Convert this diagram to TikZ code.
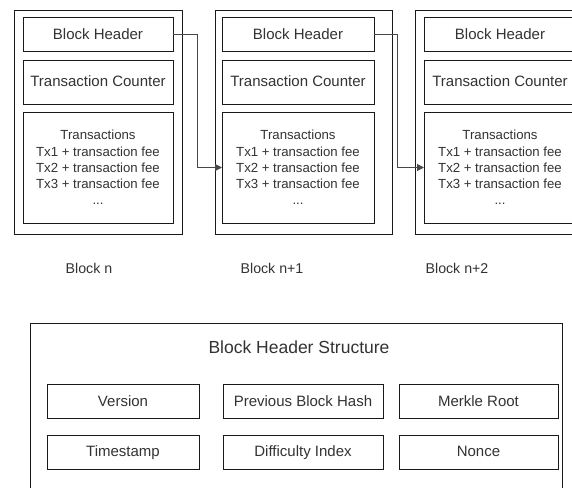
\documentclass[tikz,border=0pt]{standalone}
\usepackage{fontspec}
\setmainfont{Liberation Sans}
\usetikzlibrary{arrows.meta}
\definecolor{txt}{HTML}{333333}
\definecolor{ln}{HTML}{1A1A1A}
\begin{document}
\begin{tikzpicture}[x=1pt,y=-1pt,
  box/.style={draw=ln,line width=1pt,rectangle,inner sep=0pt,outer sep=0pt,text=txt},
  bigtxt/.style={font=\fontsize{15}{18}\selectfont,text height=11pt,text depth=1.6pt},
  txtx/.style={font=\fontsize{13.2}{16.2}\selectfont,align=center},
  lab/.style={text=txt,font=\fontsize{14.2}{17}\selectfont,inner sep=0pt,text height=10.2pt,text depth=0.5pt},
  link/.style={draw=ln!80,line width=1pt,-{Triangle[length=7pt,width=7pt]}}]
\useasboundingbox (0,0) rectangle (572,487);
\clip (0,0) rectangle (572,487);
\fill[white] (0,0) rectangle (572,487);
% Block n
\node[box,minimum width=168pt,minimum height=223pt] (bn) at (98,122.5) {};
\node[box,bigtxt,minimum width=150pt,minimum height=34pt] (hn) at (98,35) {Block Header};
\node[box,bigtxt,minimum width=150pt,minimum height=44pt] (cn) at (98,82) {Transaction Counter};
\node[box,txtx,minimum width=150pt,minimum height=111pt] (tn) at (98,167.5) {Transactions\\Tx1 + transaction fee\\Tx2 + transaction fee\\Tx3 + transaction fee\\...};
% Block n+1
\node[box,minimum width=177pt,minimum height=223pt] (bn1) at (303.5,122.5) {};
\node[box,bigtxt,minimum width=152pt,minimum height=34pt] (hn1) at (298,35) {Block Header};
\node[box,bigtxt,minimum width=152pt,minimum height=44pt] (cn1) at (298,82) {Transaction Counter};
\node[box,txtx,minimum width=152pt,minimum height=111pt] (tn1) at (298,167.5) {Transactions\\Tx1 + transaction fee\\Tx2 + transaction fee\\Tx3 + transaction fee\\...};
% Block n+2
\node[box,minimum width=177pt,minimum height=223pt] (bn2) at (503.5,122.5) {};
\node[box,bigtxt,minimum width=152pt,minimum height=34pt] (hn2) at (500,35) {Block Header};
\node[box,bigtxt,minimum width=152pt,minimum height=44pt] (cn2) at (500,82) {Transaction Counter};
\node[box,txtx,minimum width=152pt,minimum height=111pt] (tn2) at (500,167.5) {Transactions\\Tx1 + transaction fee\\Tx2 + transaction fee\\Tx3 + transaction fee\\...};
% links
\draw[link] (hn.east) -- (197,35) |- (tn1.west);
\draw[link] (hn1.east) -- (397,35) |- (tn2.west);
% labels
\node[lab] (ln) at (89,269) {Block n};
\node[lab] (ln1) at (272,269) {Block n+1};
\node[lab] (ln2) at (457,269) {Block n+2};
% header structure
\node[box,minimum width=532pt,minimum height=200pt,anchor=north west] (hs) at (30,323) {};
\node[text=txt,font=\fontsize{17.5}{20}\selectfont,inner sep=0pt,text height=12.6pt,text depth=0.5pt] (hst) at (299,347) {Block Header Structure};
\node[box,bigtxt,minimum width=152pt,minimum height=34pt] (v) at (123,401.5) {Version};
\node[box,bigtxt,minimum width=160pt,minimum height=34pt] (p) at (303,401.5) {Previous Block Hash};
\node[box,bigtxt,minimum width=159pt,minimum height=34pt] (m) at (478.5,401.5) {Merkle Root};
\node[box,bigtxt,minimum width=152pt,minimum height=34pt] (t) at (123,452) {Timestamp};
\node[box,bigtxt,minimum width=160pt,minimum height=34pt] (d) at (303,452) {Difficulty Index};
\node[box,bigtxt,minimum width=159pt,minimum height=34pt] (nn) at (478.5,452) {Nonce};
\end{tikzpicture}
\end{document}
